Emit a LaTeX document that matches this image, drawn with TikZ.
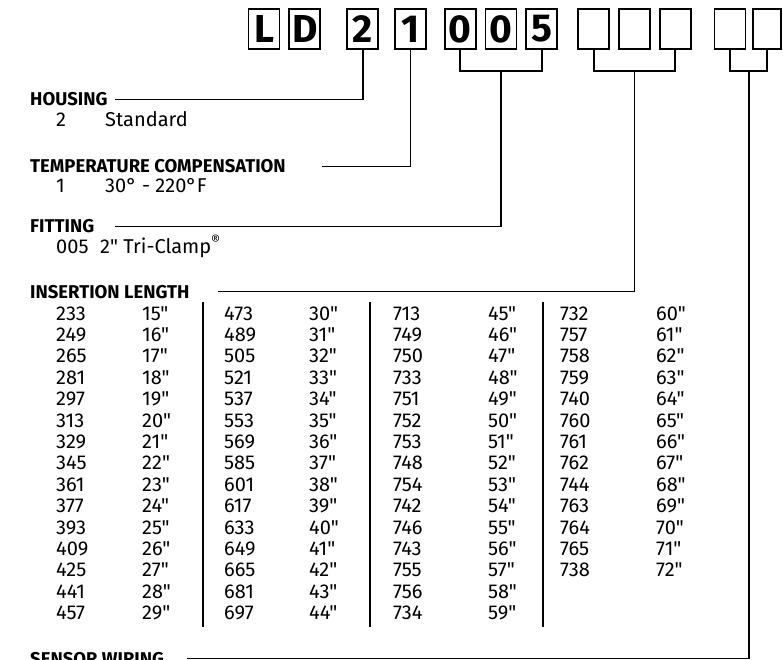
\documentclass[tikz,border=0pt]{standalone}
\usepackage{fontspec}
\setmainfont{Fira Sans}[Ligatures=TeXOff]
\usetikzlibrary{positioning,calc}

\begin{document}
\begin{tikzpicture}[x=1pt,y=-1pt,node distance=8pt,
 bx/.style={draw,line width=1.8pt,minimum width=31pt,minimum height=40pt,inner sep=0pt,font=\fontsize{39}{39}\selectfont\bfseries},
 hd/.style={anchor=base west,inner sep=0pt,font=\fontsize{18.5}{19}\selectfont\bfseries},
 tx/.style={anchor=base west,inner sep=0pt,font=\fontsize{20}{21}\selectfont},
 ln/.style={line width=1.8pt}]
\useasboundingbox (0,0) rectangle (783,660);
% model code boxes
\node[bx](bL) at (264,29){L};
\node[bx,right=of bL](bD){D};
\node[bx,right=25pt of bD](b2){2};
\node[bx,right=15pt of b2](b1){1};
\node[bx,right=17pt of b1](f1){0};
\node[bx,right=of f1](f2){0};
\node[bx,right=of f2](f3){5};
\node[bx,right=19pt of f3](e1){};
\node[bx,right=of e1](e2){};
\node[bx,right=of e2](e3){};
\node[bx,right=22pt of e3](w1){};
\node[bx,right=6pt of w1,minimum width=28pt](w2){};
% headings
\node[hd](hH) at (30,106){HOUSING};
\node[tx](sH1) at (56,127){2};
\node[tx](sH2) at (105,127){Standard};
\node[hd](hT) at (30,173){TEMPERATURE COMPENSATION};
\node[tx](sT1) at (56,193){1};
\node[tx](sT2) at (105,193){30° - 220°F};
\node[hd](hF) at (30,233){FITTING};
\node[tx](sF1) at (56,253){005};
\node[tx](sF2) at (100,253){2" Tri-Clamp\textsuperscript{®}};
\node[hd](hI) at (30,298){INSERTION LENGTH};
\node[hd](hS) at (30,665){SENSOR WIRING};
% where the leader lines stop
\coordinate(tH) at (115,0);
\coordinate(tT) at (322,0);
\coordinate(tF) at (115,0);
\coordinate(tI) at (218,0);
\coordinate(tS) at (187,0);
% connectors
\draw[ln](b2.south)|-(tH|-hH.east);
\draw[ln](b1.south)|-(tT|-hT.east);
\draw[ln](f1.south)--++(0,21)-|(f3.south);
\coordinate(kF) at ($(f1.south)!.5!(f3.south)+(0,21)$);
\draw[ln](kF)|-(tF|-hF.east);
\draw[ln](e1.south)--++(0,21)-|(e3.south);
\coordinate(kI) at ($(e1.south)!.5!(e3.south)+(0,21)$);
\draw[ln](kI)|-(tI|-hI.east);
\draw[ln](w1.south)--++(0,21)-|(w2.south);
\coordinate(kS) at ($(w1.south)!.5!(w2.south)+(0,21)$);
\draw[ln](kS)|-(tS|-hS.east);
% insertion length table
\foreach \x in {203,370,543}\draw[ln](\x,302)--(\x,627);
\foreach \k in {0,...,14}{
 \pgfmathtruncatemacro\ca{233+16*\k}
 \pgfmathtruncatemacro\cb{473+16*\k}
 \pgfmathtruncatemacro\ia{15+\k}
 \pgfmathtruncatemacro\ib{30+\k}
 \node[tx](ca\k) at (56,320+21.4*\k){\ca};
 \node[tx](la\k) at (142,320+21.4*\k){\ia"};
 \node[tx](cb\k) at (224,320+21.4*\k){\cb};
 \node[tx](lb\k) at (309,320+21.4*\k){\ib"};
}
\foreach \c [count=\k from 0] in {713,749,750,733,751,752,753,748,754,742,746,743,755,756,734}{
 \pgfmathtruncatemacro\ic{45+\k}
 \node[tx](cc\k) at (393,320+21.4*\k){\c};
 \node[tx](lc\k) at (488,320+21.4*\k){\ic"};
}
\foreach \c [count=\k from 0] in {732,757,758,759,740,760,761,762,744,763,764,765,738}{
 \pgfmathtruncatemacro\id{60+\k}
 \node[tx](cd\k) at (560,320+21.4*\k){\c};
 \node[tx](ld\k) at (656,320+21.4*\k){\id"};
}
\end{tikzpicture}
\end{document}
